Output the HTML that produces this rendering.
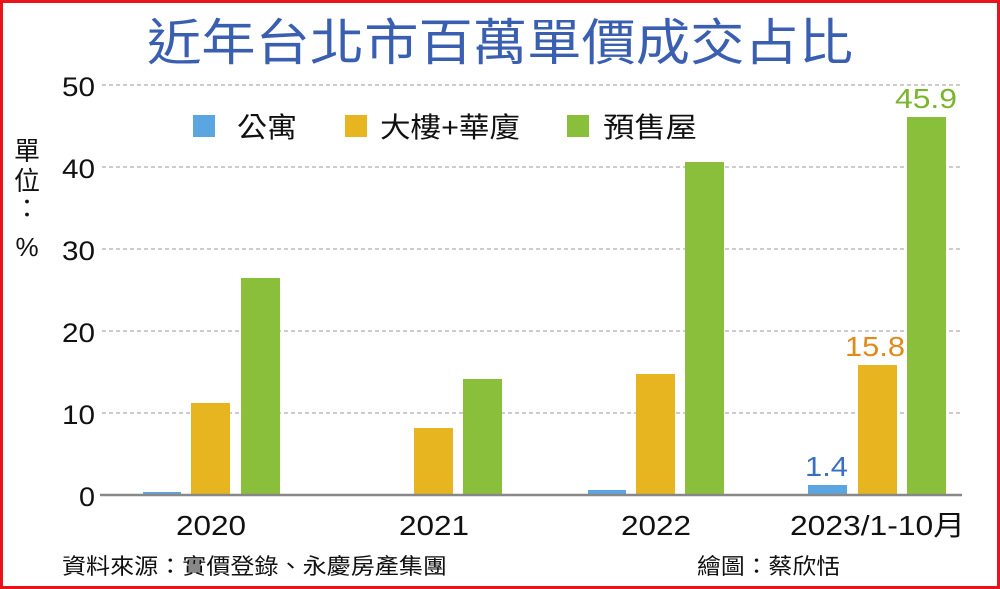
<!DOCTYPE html>
<html><head><meta charset="utf-8"><style>
html,body{margin:0;padding:0;background:#fff}
svg{display:block}
text{font-family:"Liberation Sans","Noto Sans CJK TC",sans-serif}
</style></head><body>
<svg width="1000" height="589" viewBox="0 0 1000 589" xmlns="http://www.w3.org/2000/svg">
<rect x="1.5" y="1.5" width="997" height="586" fill="#fff" stroke="#e8141c" stroke-width="3"/>
<text x="147" y="60" font-size="50" fill="#3a5fb0" textLength="706" lengthAdjust="spacingAndGlyphs">近年台北市百萬單價成交占比</text>
<g stroke="#999" stroke-width="1" stroke-dasharray="4,3">
<line x1="102" y1="85" x2="962" y2="85"/><line x1="102" y1="167" x2="962" y2="167"/>
<line x1="102" y1="249" x2="962" y2="249"/><line x1="102" y1="331" x2="962" y2="331"/>
<line x1="102" y1="413" x2="962" y2="413"/>
</g>
<g font-size="27" fill="#111">
<text x="62" y="96" textLength="33" lengthAdjust="spacingAndGlyphs">50</text>
<text x="62" y="178" textLength="33" lengthAdjust="spacingAndGlyphs">40</text>
<text x="62" y="260" textLength="33" lengthAdjust="spacingAndGlyphs">30</text>
<text x="62" y="342" textLength="33" lengthAdjust="spacingAndGlyphs">20</text>
<text x="62" y="424" textLength="33" lengthAdjust="spacingAndGlyphs">10</text>
<text x="79" y="506" textLength="16" lengthAdjust="spacingAndGlyphs">0</text>
</g>
<g font-size="26" fill="#111" text-anchor="middle">
<text x="27" y="160">單</text><text x="27" y="190">位</text><text x="27" y="218">：</text><text x="27" y="256">%</text>
</g>
<rect x="193" y="115" width="22" height="22" fill="#5ba6e0"/><text x="237" y="137" font-size="28" fill="#111" textLength="60" lengthAdjust="spacingAndGlyphs">公寓</text>
<rect x="345" y="115" width="22" height="22" fill="#e6b520"/><text x="380" y="137" font-size="28" fill="#111" textLength="140" lengthAdjust="spacingAndGlyphs">大樓+華廈</text>
<rect x="567" y="115" width="22" height="22" fill="#8abf3c"/><text x="603" y="137" font-size="28" fill="#111" textLength="94" lengthAdjust="spacingAndGlyphs">預售屋</text>
<g fill="#5ba6e0">
<rect x="143" y="492" width="38" height="3"/><rect x="588" y="490" width="38" height="5"/><rect x="808" y="485" width="39" height="10"/>
</g>
<g fill="#e6b520">
<rect x="191" y="403" width="39" height="92"/><rect x="414" y="428" width="39" height="67"/>
<rect x="636" y="374" width="39" height="121"/><rect x="858" y="365" width="39" height="130"/>
</g>
<g fill="#8abf3c">
<rect x="241" y="278" width="39" height="217"/><rect x="463" y="379" width="39" height="116"/>
<rect x="685" y="162" width="39" height="333"/><rect x="907" y="117" width="39" height="378"/>
</g>
<line x1="100" y1="495" x2="962" y2="495" stroke="#888" stroke-width="2.5"/>
<text x="805" y="476" font-size="28" fill="#3a6fc0" textLength="43" lengthAdjust="spacingAndGlyphs">1.4</text>
<text x="845" y="356" font-size="28" fill="#e08a1a" textLength="60" lengthAdjust="spacingAndGlyphs">15.8</text>
<text x="895" y="108" font-size="28" fill="#7ab52c" textLength="62" lengthAdjust="spacingAndGlyphs">45.9</text>
<g font-size="28" fill="#111">
<text x="176" y="535" textLength="70" lengthAdjust="spacingAndGlyphs">2020</text>
<text x="399" y="535" textLength="70" lengthAdjust="spacingAndGlyphs">2021</text>
<text x="621" y="535" textLength="70" lengthAdjust="spacingAndGlyphs">2022</text>
<text x="790" y="535" textLength="175" lengthAdjust="spacingAndGlyphs">2023/1-10月</text>
</g>
<text x="62" y="574" font-size="22" fill="#111" textLength="385" lengthAdjust="spacingAndGlyphs">資料來源：實價登錄、永慶房產集團</text>
<text x="697" y="574" font-size="22" fill="#111" textLength="143" lengthAdjust="spacingAndGlyphs">繪圖：蔡欣恬</text>
</svg>
</body></html>
